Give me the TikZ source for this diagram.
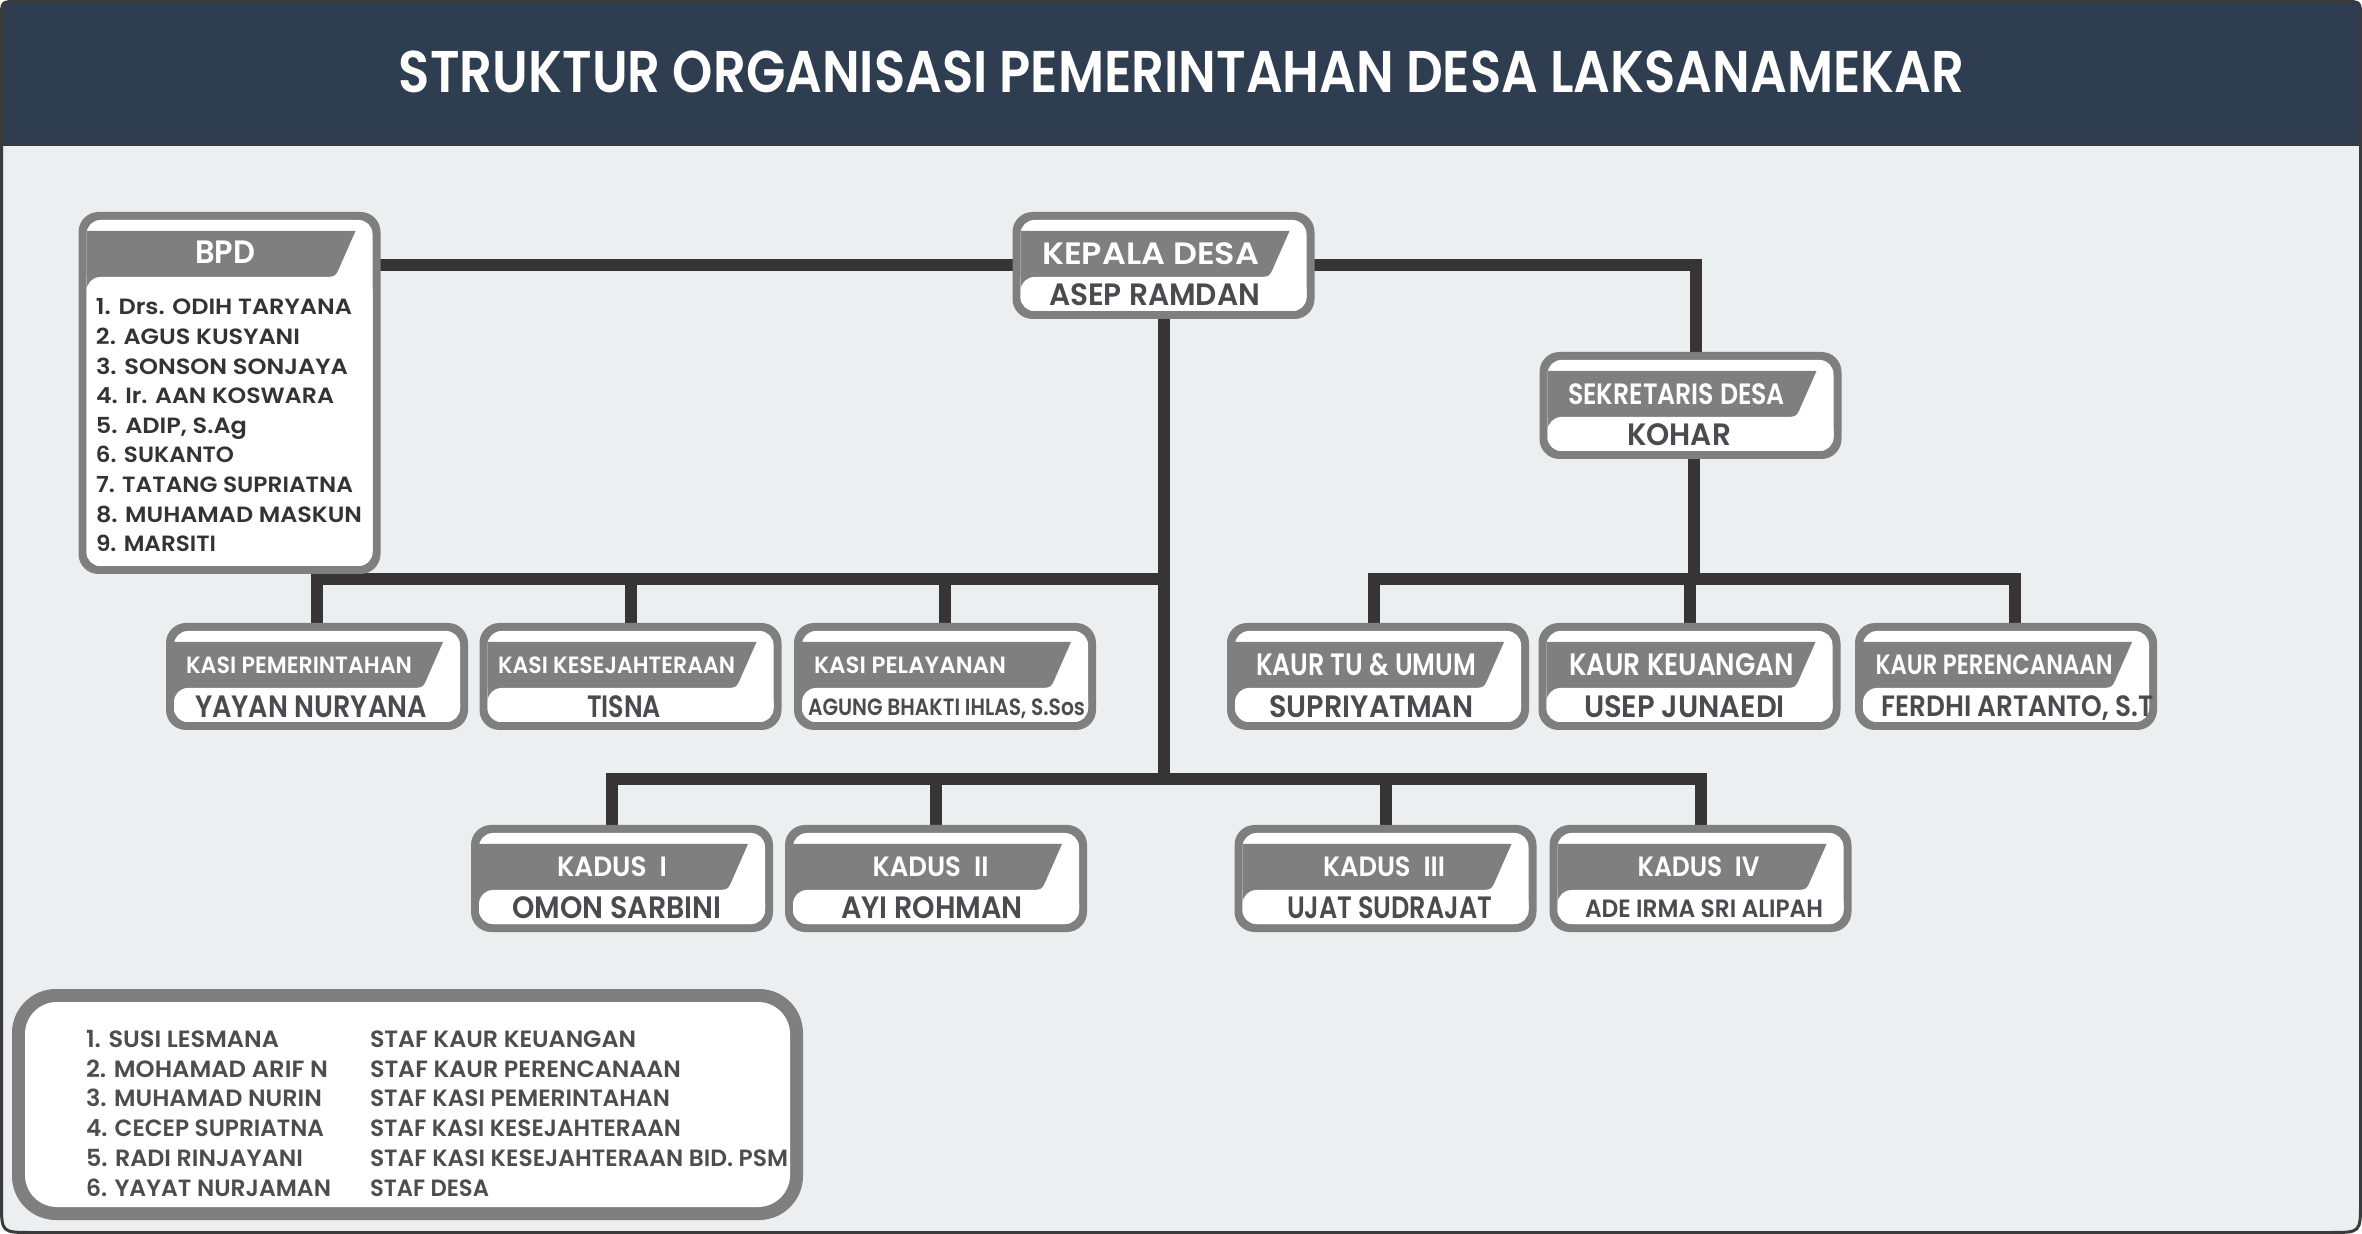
\documentclass[tikz,border=0pt]{standalone}
\usepackage{fontspec}
\setmainfont{Poppins}[BoldFont={Poppins SemiBold}]
\usepackage{graphicx}
\usetikzlibrary{calc}
\definecolor{bodybg}{HTML}{EBEFF0}
\definecolor{hdrbg}{HTML}{2E3D4F}
\definecolor{framec}{HTML}{3A3A3A}
\definecolor{boxgray}{HTML}{7F7F7F}
\definecolor{connc}{HTML}{363435}
\definecolor{namec}{HTML}{4A4A4F}
\definecolor{listc}{HTML}{333333}
\definecolor{staffc}{HTML}{4D4D4D}
\pgfdeclarelayer{bg}
\pgfdeclarelayer{lines}
\pgfsetlayers{bg,lines,main}
\newlength\fitlen
\newcommand\fitw[2]{\settowidth\fitlen{#2}\pgfmathsetmacro\fitsc{#1*0.5/\fitlen}\scalebox{\fitsc}[1]{#2}}
\newcommand\capfont[1]{\pgfmathsetmacro\fsz{#1*0.5/0.68}\fontsize{\fsz pt}{\fsz pt}\selectfont\bfseries}
% #1 anchor, #2 name, #3 x, #4 baseline y, #5 cap px, #6 width px, #7 colour, #8 text
\newcommand\tnode[8]{\node[inner sep=0pt, outer sep=0pt, anchor=#1, text=#7] (#2) at (#3,#4) {\capfont{#5}\fitw{#6}{#8}};}
% #1 name, #2 centre x, #3 top y, #4 height
\newcommand\orgbox[4]{%
  \node[boxnode, minimum height=#4*0.5pt] (#1) at (#2, #3+#4/2) {};
  \fill[boxgray, rounded corners=10pt] (#1.north west) rectangle (#1.south east);
  \fill[white, rounded corners=7pt] ($(#1.north west)+(8,8)$) rectangle ($(#1.south east)+(-8,-8)$);
  \fill[boxgray] ($(#1.north west)+(8,19)$) -- ($(#1.north east)+(-25,19)$) -- ($(#1.north east)+(-40,53)$) .. controls ($(#1.north east)+(-45,65)$) .. ($(#1.north east)+(-59,65)$) -- ($(#1.north west)+(8,65)$) -- cycle;
  \fill[boxgray] ($(#1.north west)+(8,65)$) rectangle ($(#1.north west)+(24,81)$);
  \fill[white, rounded corners=7pt] ($(#1.north west)+(8,65)$) rectangle ($(#1.south east)+(-8,-8)$);
}
\tikzset{
  boxnode/.style={draw=none, inner sep=0pt, outer sep=0pt, minimum width=151pt},
  conn/.style={draw=connc, line width=6pt, line cap=rect, line join=miter},
}
\begin{document}
\begin{tikzpicture}[x=0.5pt, y=-0.5pt]
\useasboundingbox (0,0) rectangle (2362,1234);
% frame
\begin{pgfonlayer}{bg}
\fill[bodybg] (17.5,1.5) -- (2344.5,1.5) .. controls (2360.5,1.5) .. (2360.5,17.5) -- (2360.5,1202.5) .. controls (2360.5,1232.5) .. (2330.5,1232.5) -- (31.5,1232.5) .. controls (1.5,1232.5) .. (1.5,1202.5) -- (1.5,17.5) .. controls (1.5,1.5) .. (17.5,1.5) -- cycle;
\fill[hdrbg] (1.5,145) -- (1.5,17.5) .. controls (1.5,1.5) .. (17.5,1.5) -- (2344.5,1.5) .. controls (2360.5,1.5) .. (2360.5,17.5) -- (2360.5,145) -- cycle;
\draw[framec, line width=1.5pt] (1.5,145) -- (2360.5,145);
\draw[framec, line width=1.5pt] (17.5,1.5) -- (2344.5,1.5) .. controls (2360.5,1.5) .. (2360.5,17.5) -- (2360.5,1202.5) .. controls (2360.5,1232.5) .. (2330.5,1232.5) -- (31.5,1232.5) .. controls (1.5,1232.5) .. (1.5,1202.5) -- (1.5,17.5) .. controls (1.5,1.5) .. (17.5,1.5) -- cycle;
\end{pgfonlayer}
\tnode{base}{title}{1181.5}{93}{40}{1565}{white}{STRUKTUR ORGANISASI PEMERINTAHAN DESA LAKSANAMEKAR}

% boxes
\orgbox{bpd}{229.5}{212}{362}
\orgbox{kepala}{1163.5}{212}{107}
\orgbox{sekdes}{1690.5}{352}{107}
\orgbox{kasi1}{317}{623}{107}
\orgbox{kasi2}{630.5}{623}{107}
\orgbox{kasi3}{945}{623}{107}
\orgbox{kaur1}{1378}{623}{107}
\orgbox{kaur2}{1689.5}{623}{107}
\orgbox{kaur3}{2006}{623}{107}
\orgbox{kadus1}{622}{825}{107}
\orgbox{kadus2}{936}{825}{107}
\orgbox{kadus3}{1385.5}{825}{107}
\orgbox{kadus4}{1700.5}{825}{107}

% BPD
\tnode{base}{bpd-h}{225}{264}{22}{60}{white}{BPD}
\tnode{base west}{bpd-1}{96}{315}{15}{256}{listc}{1. Drs. ODIH TARYANA}
\tnode{base west}{bpd-2}{96}{344.6}{15}{204}{listc}{2. AGUS KUSYANI}
\tnode{base west}{bpd-3}{96}{374.2}{15}{252}{listc}{3. SONSON SONJAYA}
\tnode{base west}{bpd-4}{96}{403.8}{15}{238}{listc}{4. Ir. AAN KOSWARA}
\tnode{base west}{bpd-5}{96}{433.4}{15}{151}{listc}{5. ADIP, S.Ag}
\tnode{base west}{bpd-6}{96}{463}{15}{138}{listc}{6. SUKANTO}
\tnode{base west}{bpd-7}{96}{492.6}{15}{257}{listc}{7. TATANG SUPRIATNA}
\tnode{base west}{bpd-8}{96}{522.2}{15}{266}{listc}{8. MUHAMAD MASKUN}
\tnode{base west}{bpd-9}{96}{551.8}{15}{120}{listc}{9. MARSITI}

% Kepala / Sekdes
\tnode{base}{kepala-h}{1150.5}{265}{21}{217}{white}{KEPALA DESA}
\tnode{base}{kepala-n}{1154.5}{306}{21}{211}{namec}{ASEP RAMDAN}
\tnode{base}{sekdes-h}{1676.5}{405}{20}{217}{white}{SEKRETARIS DESA}
\tnode{base}{sekdes-n}{1679}{446}{21}{104}{namec}{KOHAR}

% Row 2
\tnode{base}{kasi1-h}{299}{674}{16}{226}{white}{KASI PEMERINTAHAN}
\tnode{base}{kasi1-n}{311}{718}{21}{232}{namec}{YAYAN NURYANA}
\tnode{base}{kasi2-h}{616.5}{674}{16}{237}{white}{KASI KESEJAHTERAAN}
\tnode{base}{kasi2-n}{624}{718}{21}{74}{namec}{TISNA}
\tnode{base}{kasi3-h}{910}{674}{16}{192}{white}{KASI PELAYANAN}
\tnode{base}{kasi3-n}{946.5}{716}{16}{277}{namec}{AGUNG BHAKTI IHLAS, S.Sos}
\tnode{base}{kaur1-h}{1366}{676}{21}{220}{white}{KAUR TU \& UMUM}
\tnode{base}{kaur1-n}{1371.5}{718}{21}{204}{namec}{SUPRIYATMAN}
\tnode{base}{kaur2-h}{1681.5}{676}{21}{225}{white}{KAUR KEUANGAN}
\tnode{base}{kaur2-n}{1684.5}{718}{21}{201}{namec}{USEP JUNAEDI}
\tnode{base}{kaur3-h}{1994}{675}{19}{237}{white}{KAUR PERENCANAAN}
\tnode{base}{kaur3-n}{2017.5}{717}{20}{272}{namec}{FERDHI ARTANTO, S.T}

% Row 3
\tnode{base}{kadus1-h}{612}{877}{19}{110}{white}{KADUS\enspace I}
\tnode{base}{kadus1-n}{617}{919}{21}{209}{namec}{OMON SARBINI}
\tnode{base}{kadus2-h}{930.5}{877}{19}{116}{white}{KADUS\enspace II}
\tnode{base}{kadus2-n}{932}{919}{21}{182}{namec}{AYI ROHMAN}
\tnode{base}{kadus3-h}{1384}{877}{19}{122}{white}{KADUS\enspace III}
\tnode{base}{kadus3-n}{1389.5}{919}{21}{205}{namec}{UJAT SUDRAJAT}
\tnode{base}{kadus4-h}{1698.5}{877}{19}{122}{white}{KADUS\enspace IV}
\tnode{base}{kadus4-n}{1704}{917}{17}{238}{namec}{ADE IRMA SRI ALIPAH}

% staff box
\node[boxnode, minimum width=395.5pt, minimum height=115.5pt] (staff) at (407.5,1104.5) {};
\fill[boxgray, rounded corners=22pt] (staff.north west) rectangle (staff.south east);
\fill[white, rounded corners=16pt] ($(staff.north west)+(13,13)$) rectangle ($(staff.south east)+(-13,-13)$);
\tnode{base west}{s1}{86}{1047.5}{16}{193}{staffc}{1. SUSI LESMANA}
\tnode{base west}{s2}{86}{1077.2}{16}{242}{staffc}{2. MOHAMAD ARIF N}
\tnode{base west}{s3}{86}{1106.9}{16}{236}{staffc}{3. MUHAMAD NURIN}
\tnode{base west}{s4}{86}{1136.6}{16}{238}{staffc}{4. CECEP SUPRIATNA}
\tnode{base west}{s5}{86}{1166.3}{16}{217}{staffc}{5. RADI RINJAYANI}
\tnode{base west}{s6}{86}{1196}{16}{245}{staffc}{6. YAYAT NURJAMAN}
\tnode{base west}{t1}{370}{1047.5}{16}{266}{staffc}{STAF KAUR KEUANGAN}
\tnode{base west}{t2}{370}{1077.2}{16}{311}{staffc}{STAF KAUR PERENCANAAN}
\tnode{base west}{t3}{370}{1106.9}{16}{300}{staffc}{STAF KASI PEMERINTAHAN}
\tnode{base west}{t4}{370}{1136.6}{16}{311}{staffc}{STAF KASI KESEJAHTERAAN}
\tnode{base west}{t5}{370}{1166.3}{16}{418}{staffc}{STAF KASI KESEJAHTERAAN BID. PSM}
\tnode{base west}{t6}{370}{1196}{16}{119}{staffc}{STAF DESA}

% connectors
\coordinate (kasibus) at (0,579);
\coordinate (kadusbus) at (0,779);
\coordinate (k1top) at ($(kadus1.north)+(-10,0)$);
\coordinate (u1top) at ($(kaur1.north)+(-4,0)$);
\coordinate (u3top) at ($(kaur3.north)+(9,0)$);
\coordinate (sdtop) at ($(sekdes.north)+(5,0)$);
\coordinate (sdbot) at ($(sekdes.south)+(3,0)$);
\begin{pgfonlayer}{lines}
\draw[conn] (kepala.west -| bpd.east) -- (kepala.west);
\draw[conn] (kepala.east) -| (sdtop);
\draw[conn] (kepala.south) -- (kepala.south |- kadusbus);
\draw[conn] (k1top) -- (k1top |- kadusbus) -- (kadus4.north |- kadusbus) -- (kadus4.north);
\draw[conn] (kadus2.north) -- (kadus2.north |- kadusbus);
\draw[conn] (kadus3.north) -- (kadus3.north |- kadusbus);
\draw[conn] (kasi1.north) -- (kasi1.north |- kasibus) -- (kepala.south |- kasibus);
\draw[conn] (kasi2.north) -- (kasi2.north |- kasibus);
\draw[conn] (kasi3.north) -- (kasi3.north |- kasibus);
\draw[conn] (sdbot) -- (sdbot |- kasibus);
\draw[conn] (u1top) -- (u1top |- kasibus) -- (u3top |- kasibus) -- (u3top);
\draw[conn] (kaur2.north) -- (kaur2.north |- kasibus);
\end{pgfonlayer}
\end{tikzpicture}
\end{document}
